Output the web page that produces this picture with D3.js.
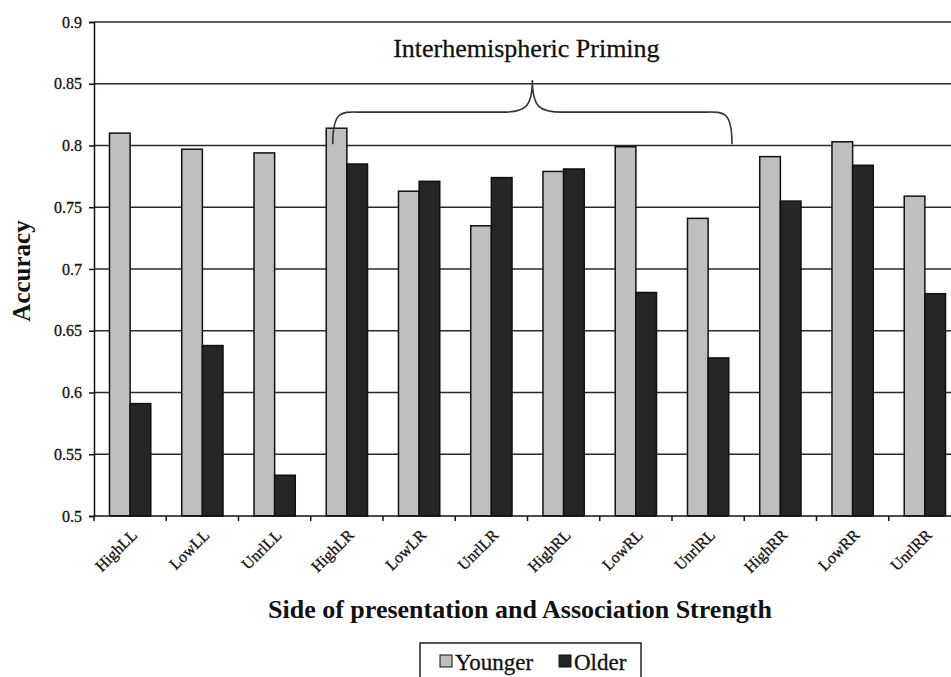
<!DOCTYPE html>
<html>
<head>
<meta charset="utf-8">
<script src="https://cdn.jsdelivr.net/npm/d3@7"></script>
<style>
  body { margin: 0; background: #fff; }
  svg text { font-family: "Liberation Serif", "Times New Roman", serif !important; }
</style>
</head>
<body>
<div id="chart"></div>
<script>
const categories = ["HighLL", "LowLL", "UnrlLL", "HighLR", "LowLR", "UnrlLR",
  "HighRL", "LowRL", "UnrlRL", "HighRR", "LowRR", "UnrlRR"];
const younger = [0.810, 0.797, 0.794, 0.814, 0.763, 0.735, 0.779, 0.799, 0.741, 0.791, 0.803, 0.759];
const older = [0.591, 0.638, 0.533, 0.785, 0.771, 0.774, 0.781, 0.681, 0.628, 0.755, 0.784, 0.680];
const seriesNames = ["Younger", "Older"];
const seriesColors = ["#bfbfbf", "#262626"];
const yTicks = [0.5, 0.55, 0.6, 0.65, 0.7, 0.75, 0.8, 0.85, 0.9];

const W = 951, H = 677;
const margin = { top: 22, left: 94 };
const plotW = 867, plotH = 494;

const svg = d3.select("#chart").append("svg")
  .attr("width", W)
  .attr("height", H);

const g = svg.append("g")
  .attr("transform", `translate(${margin.left},${margin.top})`);

const x = d3.scaleBand().domain(categories).range([0, plotW]).paddingInner(0).paddingOuter(0);
const y = d3.scaleLinear().domain([0.5, 0.9]).range([plotH, 0]);

// bars take 2/3.5 of each band (Excel gap width 150%)
const barW = x.bandwidth() / 3.5;
const xs = d3.scaleBand().domain(seriesNames).range([0, barW * 2]);

// gridlines
g.append("g")
  .selectAll("line")
  .data(yTicks.filter(d => d > 0.5))
  .join("line")
  .attr("x1", 0)
  .attr("x2", plotW)
  .attr("y1", d => y(d))
  .attr("y2", d => y(d))
  .attr("stroke", "#2a2a2a")
  .attr("stroke-width", 1.5);

// bars
const rows = categories.map((c, i) => ({ cat: c, vals: [younger[i], older[i]] }));
const groups = g.selectAll(".cat")
  .data(rows)
  .join("g")
  .attr("class", "cat")
  .attr("transform", d => `translate(${x(d.cat) + (x.bandwidth() - barW * 2) / 2},0)`);

groups.selectAll("rect")
  .data(d => d.vals.map((v, k) => ({ key: seriesNames[k], v, k })))
  .join("rect")
  .attr("x", d => xs(d.key))
  .attr("width", xs.bandwidth())
  .attr("y", d => y(d.v))
  .attr("height", d => y(0.5) - y(d.v))
  .attr("fill", d => seriesColors[d.k])
  .attr("stroke", "#111")
  .attr("stroke-width", 1.5);

// y axis
const yAxis = g.append("g")
  .call(d3.axisLeft(y).tickValues(yTicks).tickSize(5).tickPadding(7).tickFormat(d => String(+d.toFixed(2))));
yAxis.attr("font-family", null);
yAxis.select(".domain").attr("stroke", "#111").attr("stroke-width", 1.5);
yAxis.selectAll(".tick line").attr("stroke", "#111").attr("stroke-width", 1.5);
yAxis.selectAll("text")
  .attr("font-size", 16)
  .attr("fill", "#111")
  .attr("stroke", "#111")
  .attr("stroke-width", 0.3);

// x axis: ticks on category boundaries
const xAxisG = g.append("g").attr("transform", `translate(0,${plotH})`);
xAxisG.append("line")
  .attr("x1", 0).attr("x2", plotW)
  .attr("stroke", "#111").attr("stroke-width", 1.5);
xAxisG.selectAll(".bt")
  .data(categories)
  .join("line")
  .attr("class", "bt")
  .attr("x1", d => x(d)).attr("x2", d => x(d))
  .attr("y1", 0).attr("y2", 5)
  .attr("stroke", "#111").attr("stroke-width", 1.5);
xAxisG.selectAll(".lbl")
  .data(categories)
  .join("text")
  .attr("class", "lbl")
  .attr("text-anchor", "end")
  .attr("font-size", 16)
  .attr("fill", "#111")
  .attr("stroke", "#111")
  .attr("stroke-width", 0.3)
  .attr("transform", d => `translate(${x(d) + x.bandwidth() / 2 + 8},${20}) rotate(-45)`)
  .text(d => d);

// axis titles
svg.append("text")
  .attr("transform", `translate(30,${margin.top + plotH / 2 + 2}) rotate(-90)`)
  .attr("text-anchor", "middle")
  .attr("font-weight", "bold")
  .attr("font-size", 25)
  .attr("fill", "#111")
  .text("Accuracy");

svg.append("text")
  .attr("x", 520)
  .attr("y", 618)
  .attr("text-anchor", "middle")
  .attr("font-weight", "bold")
  .attr("font-size", 26)
  .attr("fill", "#111")
  .text("Side of presentation and Association Strength");

// brace annotation over the interhemispheric conditions
const bx0 = x("HighLR") + 22, bx1 = x("UnrlRL") + 60;
const bmid = (bx0 + bx1) / 2;
const by0 = y(0.801), by1 = y(0.827), byp = y(0.853);
const r = 30;
const brace = `M${bx0},${by0} C${bx0},${by1 - 4} ${bx0 + 10},${by1} ${bx0 + r},${by1}` +
  ` L${bmid - r},${by1} C${bmid - 8},${by1} ${bmid},${by1 - 4} ${bmid},${byp}` +
  ` C${bmid},${by1 - 4} ${bmid + 8},${by1} ${bmid + r},${by1}` +
  ` L${bx1 - r},${by1} C${bx1 - 10},${by1} ${bx1},${by1 - 4} ${bx1},${by0}`;
g.append("path")
  .attr("d", brace)
  .attr("fill", "none")
  .attr("stroke", "#333")
  .attr("stroke-width", 1.6);

g.append("text")
  .attr("x", bmid - 6)
  .attr("y", y(0.872))
  .attr("text-anchor", "middle")
  .attr("font-size", 26)
  .attr("fill", "#111")
  .attr("stroke", "#111")
  .attr("stroke-width", 0.3)
  .text("Interhemispheric Priming");

// legend
const legend = svg.append("g").attr("transform", "translate(420,643)");
legend.append("rect")
  .attr("width", 221).attr("height", 40)
  .attr("fill", "#fff")
  .attr("stroke", "#222").attr("stroke-width", 1.5);
const lx = [20, 139];
seriesNames.forEach((s, k) => {
  legend.append("rect")
    .attr("x", lx[k]).attr("y", 12)
    .attr("width", 12).attr("height", 12)
    .attr("fill", seriesColors[k])
    .attr("stroke", "#111").attr("stroke-width", 1);
  legend.append("text")
    .attr("x", lx[k] + 15).attr("y", 27)
    .attr("font-size", 23)
    .attr("fill", "#111")
    .attr("stroke", "#111")
    .attr("stroke-width", 0.3)
    .text(s);
});
</script>
</body>
</html>
